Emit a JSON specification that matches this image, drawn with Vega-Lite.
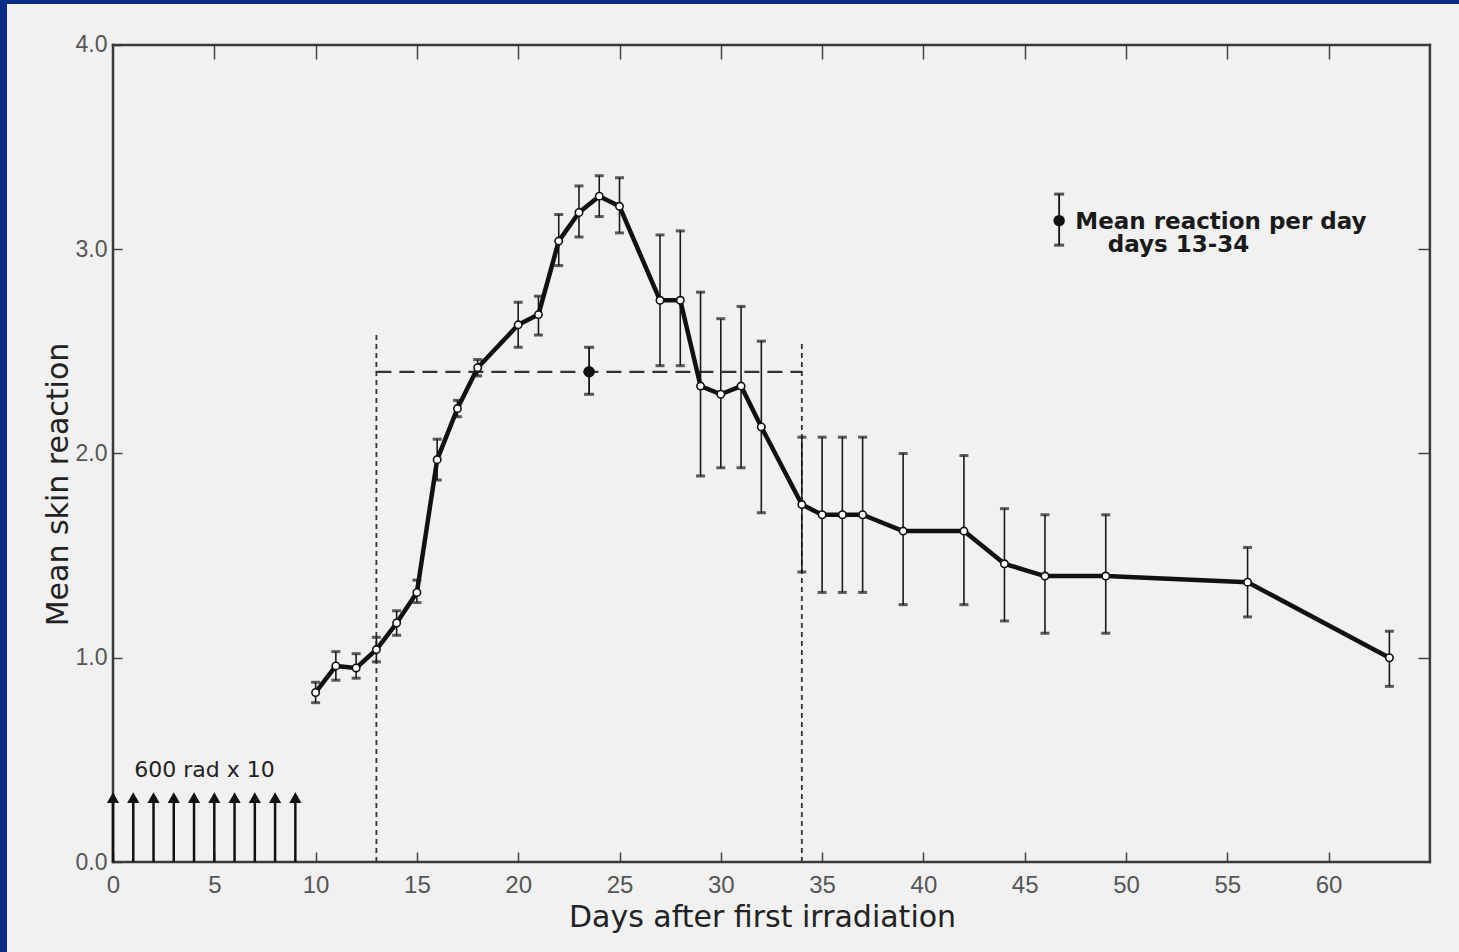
{
  "$schema": "https://vega.github.io/schema/vega-lite/v6.json",
  "width": 1452,
  "height": 948,
  "autosize": {"type": "none"},
  "padding": {"left": 7, "top": 4, "right": 0, "bottom": 0},
  "background": "#0b2c84",
  "config": {"view": {"fill": "#f1f1f1", "stroke": null}, "font": "DejaVu Sans"},
  "datasets": {
    "series": [
      {"day": 10, "mean": 0.83, "lo": 0.78, "hi": 0.88},
      {"day": 11, "mean": 0.96, "lo": 0.89, "hi": 1.03},
      {"day": 12, "mean": 0.95, "lo": 0.90, "hi": 1.02},
      {"day": 13, "mean": 1.04, "lo": 0.98, "hi": 1.10},
      {"day": 14, "mean": 1.17, "lo": 1.11, "hi": 1.23},
      {"day": 15, "mean": 1.32, "lo": 1.27, "hi": 1.38},
      {"day": 16, "mean": 1.97, "lo": 1.87, "hi": 2.07},
      {"day": 17, "mean": 2.22, "lo": 2.18, "hi": 2.26},
      {"day": 18, "mean": 2.42, "lo": 2.38, "hi": 2.46},
      {"day": 20, "mean": 2.63, "lo": 2.52, "hi": 2.74},
      {"day": 21, "mean": 2.68, "lo": 2.58, "hi": 2.77},
      {"day": 22, "mean": 3.04, "lo": 2.92, "hi": 3.17},
      {"day": 23, "mean": 3.18, "lo": 3.06, "hi": 3.31},
      {"day": 24, "mean": 3.26, "lo": 3.16, "hi": 3.36},
      {"day": 25, "mean": 3.21, "lo": 3.08, "hi": 3.35},
      {"day": 27, "mean": 2.75, "lo": 2.43, "hi": 3.07},
      {"day": 28, "mean": 2.75, "lo": 2.43, "hi": 3.09},
      {"day": 29, "mean": 2.33, "lo": 1.89, "hi": 2.79},
      {"day": 30, "mean": 2.29, "lo": 1.93, "hi": 2.66},
      {"day": 31, "mean": 2.33, "lo": 1.93, "hi": 2.72},
      {"day": 32, "mean": 2.13, "lo": 1.71, "hi": 2.55},
      {"day": 34, "mean": 1.75, "lo": 1.42, "hi": 2.08},
      {"day": 35, "mean": 1.70, "lo": 1.32, "hi": 2.08},
      {"day": 36, "mean": 1.70, "lo": 1.32, "hi": 2.08},
      {"day": 37, "mean": 1.70, "lo": 1.32, "hi": 2.08},
      {"day": 39, "mean": 1.62, "lo": 1.26, "hi": 2.00},
      {"day": 42, "mean": 1.62, "lo": 1.26, "hi": 1.99},
      {"day": 44, "mean": 1.46, "lo": 1.18, "hi": 1.73},
      {"day": 46, "mean": 1.40, "lo": 1.12, "hi": 1.70},
      {"day": 49, "mean": 1.40, "lo": 1.12, "hi": 1.70},
      {"day": 56, "mean": 1.37, "lo": 1.20, "hi": 1.54},
      {"day": 63, "mean": 1.00, "lo": 0.86, "hi": 1.13}
    ],
    "meanpts": [
      {"day": 23.5, "mean": 2.40, "lo": 2.29, "hi": 2.52},
      {"day": 46.7, "mean": 3.14, "lo": 3.02, "hi": 3.27}
    ],
    "labels": [
      {"day": 47.5, "y": 3.135, "label": "Mean reaction per day"},
      {"day": 49.1, "y": 3.02, "label": "days 13-34"}
    ],
    "radlabel": [
      {"day": 1.05, "y": 0.45, "label": "600 rad  x 10"}
    ],
    "frame": [
      {"x": 0, "x2": 65, "y": 0, "y2": 0},
      {"x": 0, "x2": 65, "y": 4, "y2": 4},
      {"x": 0, "x2": 0, "y": 0, "y2": 4},
      {"x": 65, "x2": 65, "y": 0, "y2": 4}
    ],
    "vdash": [
      {"x": 13, "y": 0, "y2": 2.59},
      {"x": 34, "y": 0, "y2": 2.54}
    ],
    "hdash": [
      {"x": 13, "x2": 34, "y": 2.40}
    ],
    "arrows": [
      {"day": 0}, {"day": 1}, {"day": 2}, {"day": 3}, {"day": 4},
      {"day": 5}, {"day": 6}, {"day": 7}, {"day": 8}, {"day": 9}
    ]
  },
  "layer": [
    {
      "data": {"name": "frame"},
      "mark": {"type": "rule", "strokeWidth": 2.5, "color": "#3a3a3a", "strokeCap": "square"},
      "encoding": {
        "x": {"field": "x", "type": "quantitative",
          "scale": {"domain": [-5.232, 66.436], "nice": false, "zero": false},
          "axis": {"orient": "bottom", "offset": -90, "values": [0, 5, 10, 15, 20, 25, 30, 35, 40, 45, 50, 55, 60],
            "format": "d", "domain": false, "grid": false, "tickSize": -10, "tickWidth": 1.5, "tickColor": "#444",
            "labelPadding": 21, "labelFont": "Liberation Sans", "labelFontSize": 24, "labelColor": "#555",
            "labelFlush": false,
            "title": "Days after first irradiation", "titleFont": "DejaVu Sans", "titleFontSize": 30,
            "titleFontWeight": "normal", "titleColor": "#222", "titleX": 755, "titleY": 55,
            "titleAlign": "center", "titleBaseline": "middle", "titleAnchor": null}},
        "x2": {"field": "x2"},
        "y": {"field": "y", "type": "quantitative",
          "scale": {"domain": [-0.4406, 4.2007], "nice": false, "zero": false},
          "axis": {"orient": "left", "offset": -106, "values": [0, 1, 2, 3, 4], "format": ".1f",
            "domain": false, "grid": false, "tickSize": -9, "tickWidth": 1.5, "tickColor": "#444",
            "labelPadding": 15, "labelFont": "Liberation Sans", "labelFontSize": 23, "labelColor": "#555",
            "labelFlush": false,
            "title": "Mean skin reaction", "titleFont": "DejaVu Sans", "titleFontSize": 30,
            "titleFontWeight": "normal", "titleColor": "#222", "titleX": -55, "titleY": 480,
            "titleAngle": -90, "titleAlign": "center", "titleBaseline": "middle", "titleAnchor": null}},
        "y2": {"field": "y2"}
      }
    },
    {
      "data": {"name": "vdash"},
      "mark": {"type": "rule", "strokeWidth": 1.8, "color": "#333", "strokeDash": [5, 4]},
      "encoding": {
        "x": {"field": "x", "type": "quantitative", "scale": {"domain": [-5.232, 66.436], "nice": false, "zero": false}, "axis": null},
        "y": {"field": "y", "type": "quantitative", "scale": {"domain": [-0.4406, 4.2007], "nice": false, "zero": false}, "axis": null},
        "y2": {"field": "y2"}
      }
    },
    {
      "data": {"name": "hdash"},
      "mark": {"type": "rule", "strokeWidth": 2.2, "color": "#333", "strokeDash": [15, 8]},
      "encoding": {
        "x": {"field": "x", "type": "quantitative", "scale": {"domain": [-5.232, 66.436], "nice": false, "zero": false}, "axis": null},
        "x2": {"field": "x2"},
        "y": {"field": "y", "type": "quantitative", "scale": {"domain": [-0.4406, 4.2007], "nice": false, "zero": false}, "axis": null}
      }
    },
    {
      "data": {"name": "arrows"},
      "mark": {"type": "rule", "strokeWidth": 2.5, "color": "#111"},
      "encoding": {
        "x": {"field": "day", "type": "quantitative", "scale": {"domain": [-5.232, 66.436], "nice": false, "zero": false}, "axis": null},
        "y": {"datum": 0, "type": "quantitative", "scale": {"domain": [-0.4406, 4.2007], "nice": false, "zero": false}, "axis": null},
        "y2": {"datum": 0.3}
      }
    },
    {
      "data": {"name": "arrows"},
      "mark": {"type": "point", "shape": "triangle-up", "filled": true, "color": "#111", "size": 150, "opacity": 1},
      "encoding": {
        "x": {"field": "day", "type": "quantitative", "scale": {"domain": [-5.232, 66.436], "nice": false, "zero": false}, "axis": null},
        "y": {"datum": 0.315, "type": "quantitative", "scale": {"domain": [-0.4406, 4.2007], "nice": false, "zero": false}, "axis": null}
      }
    },
    {
      "data": {"name": "radlabel"},
      "mark": {"type": "text", "align": "left", "baseline": "middle", "fontSize": 22, "font": "DejaVu Sans", "color": "#222"},
      "encoding": {
        "x": {"field": "day", "type": "quantitative", "scale": {"domain": [-5.232, 66.436], "nice": false, "zero": false}, "axis": null},
        "y": {"field": "y", "type": "quantitative", "scale": {"domain": [-0.4406, 4.2007], "nice": false, "zero": false}, "axis": null},
        "text": {"field": "label"}
      }
    },
    {
      "data": {"name": "series"},
      "mark": {"type": "errorbar", "thickness": 1.6, "color": "#1a1a1a", "ticks": {"size": 9, "thickness": 3, "color": "#1a1a1a"}},
      "encoding": {
        "x": {"field": "day", "type": "quantitative", "scale": {"domain": [-5.232, 66.436], "nice": false, "zero": false}, "axis": null},
        "y": {"field": "lo", "type": "quantitative", "scale": {"domain": [-0.4406, 4.2007], "nice": false, "zero": false}, "axis": null},
        "y2": {"field": "hi"}
      }
    },
    {
      "data": {"name": "meanpts"},
      "mark": {"type": "errorbar", "thickness": 1.8, "color": "#111", "ticks": {"size": 10, "thickness": 3, "color": "#111"}},
      "encoding": {
        "x": {"field": "day", "type": "quantitative", "scale": {"domain": [-5.232, 66.436], "nice": false, "zero": false}, "axis": null},
        "y": {"field": "lo", "type": "quantitative", "scale": {"domain": [-0.4406, 4.2007], "nice": false, "zero": false}, "axis": null},
        "y2": {"field": "hi"}
      }
    },
    {
      "data": {"name": "series"},
      "mark": {"type": "line", "strokeWidth": 4.5, "color": "#111", "strokeJoin": "round"},
      "encoding": {
        "x": {"field": "day", "type": "quantitative", "scale": {"domain": [-5.232, 66.436], "nice": false, "zero": false},
          "axis": {"orient": "top", "offset": -41, "values": [5, 10, 15, 20, 25, 30, 35, 40, 45, 50, 55, 60],
            "domain": false, "grid": false, "labels": false, "title": null, "tickSize": -14, "tickWidth": 1.5, "tickColor": "#444"}},
        "y": {"field": "mean", "type": "quantitative", "scale": {"domain": [-0.4406, 4.2007], "nice": false, "zero": false},
          "axis": {"orient": "right", "offset": -29, "values": [1, 2, 3],
            "domain": false, "grid": false, "labels": false, "title": null, "tickSize": -12, "tickWidth": 1.5, "tickColor": "#444"}}
      }
    },
    {
      "data": {"name": "series"},
      "mark": {"type": "point", "filled": true, "fill": "#ffffff", "stroke": "#111", "strokeWidth": 1.6, "size": 55, "opacity": 1},
      "encoding": {
        "x": {"field": "day", "type": "quantitative", "scale": {"domain": [-5.232, 66.436], "nice": false, "zero": false}, "axis": null},
        "y": {"field": "mean", "type": "quantitative", "scale": {"domain": [-0.4406, 4.2007], "nice": false, "zero": false}, "axis": null}
      }
    },
    {
      "data": {"name": "meanpts"},
      "mark": {"type": "point", "filled": true, "color": "#111", "size": 130, "opacity": 1},
      "encoding": {
        "x": {"field": "day", "type": "quantitative", "scale": {"domain": [-5.232, 66.436], "nice": false, "zero": false}, "axis": null},
        "y": {"field": "mean", "type": "quantitative", "scale": {"domain": [-0.4406, 4.2007], "nice": false, "zero": false}, "axis": null}
      }
    },
    {
      "data": {"name": "labels"},
      "mark": {"type": "text", "align": "left", "baseline": "middle", "fontSize": 23, "fontWeight": "bold", "font": "DejaVu Sans", "color": "#1a1a1a"},
      "encoding": {
        "x": {"field": "day", "type": "quantitative", "scale": {"domain": [-5.232, 66.436], "nice": false, "zero": false}, "axis": null},
        "y": {"field": "y", "type": "quantitative", "scale": {"domain": [-0.4406, 4.2007], "nice": false, "zero": false}, "axis": null},
        "text": {"field": "label"}
      }
    }
  ],
  "resolve": {"axis": {"x": "independent", "y": "independent"}}
}
